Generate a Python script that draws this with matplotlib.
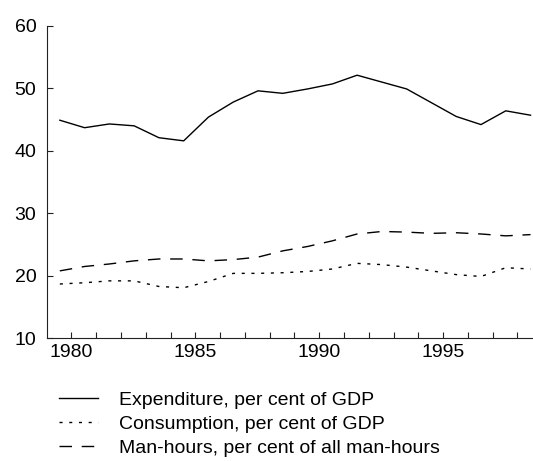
import matplotlib.pyplot as plt
from matplotlib.ticker import FixedLocator
import numpy as np

plt.rcParams['font.family'] = ['Liberation Sans', 'DejaVu Sans']

years = np.arange(1980, 2000)
expenditure = [44.9, 43.7, 44.3, 44.0, 42.1, 41.6, 45.4, 47.8, 49.6, 49.2,
               49.9, 50.7, 52.1, 51.0, 49.9, 47.7, 45.5, 44.2, 46.4, 45.7]
consumption = [18.7, 18.9, 19.2, 19.2, 18.3, 18.1, 19.1, 20.4, 20.4, 20.5,
               20.7, 21.1, 22.0, 21.8, 21.4, 20.8, 20.2, 19.9, 21.3, 21.1]
man_hours = [20.8, 21.5, 21.9, 22.4, 22.7, 22.7, 22.4, 22.6, 23.0, 24.0,
             24.7, 25.6, 26.7, 27.1, 27.0, 26.8, 26.9, 26.7, 26.4, 26.6]
labels = ["Expenditure, per cent of GDP",
          "Consumption, per cent of GDP",
          "Man-hours, per cent of all man-hours"]

fig = plt.figure(figsize=(5.33, 4.61), dpi=100)
ax = fig.add_axes([0.089, 0.266, 0.911, 0.678])

ax.plot(years, expenditure, color="black", lw=1.0, label=labels[0])
ax.plot(years, consumption, color="black", lw=1.0, dashes=(2.2, 4.8), label=labels[1])
ax.plot(years, man_hours, color="black", lw=1.0, dashes=(9, 7), label=labels[2])

# yearly ticks sit a little right of each annual value
ax.set_xlim(1979.5, 1999.1)
ax.set_ylim(10, 60)
ax.xaxis.set_major_locator(FixedLocator(years[::5] + 0.47))
ax.set_xticklabels([str(y) for y in years[::5]])
ax.xaxis.set_minor_locator(FixedLocator(years + 0.47))
ax.set_yticks([10, 20, 30, 40, 50, 60])

for s in ["top", "right"]:
    ax.spines[s].set_visible(False)
for s in ["left", "bottom"]:
    ax.spines[s].set_linewidth(0.8)
    ax.spines[s].set_color("#222222")

ax.tick_params(axis="both", which="both", direction="in", width=0.8,
               color="#222222", labelsize=14)
ax.tick_params(axis="x", which="both", length=4, pad=4)
ax.tick_params(axis="y", length=4, pad=8)

fig.legend(loc="upper left", bbox_to_anchor=(0.11, 0.152), frameon=False,
           fontsize=14, handlelength=2.0, handletextpad=1.1,
           labelspacing=0.33, borderaxespad=0, borderpad=0)

fig.savefig("out.png", dpi=100)
